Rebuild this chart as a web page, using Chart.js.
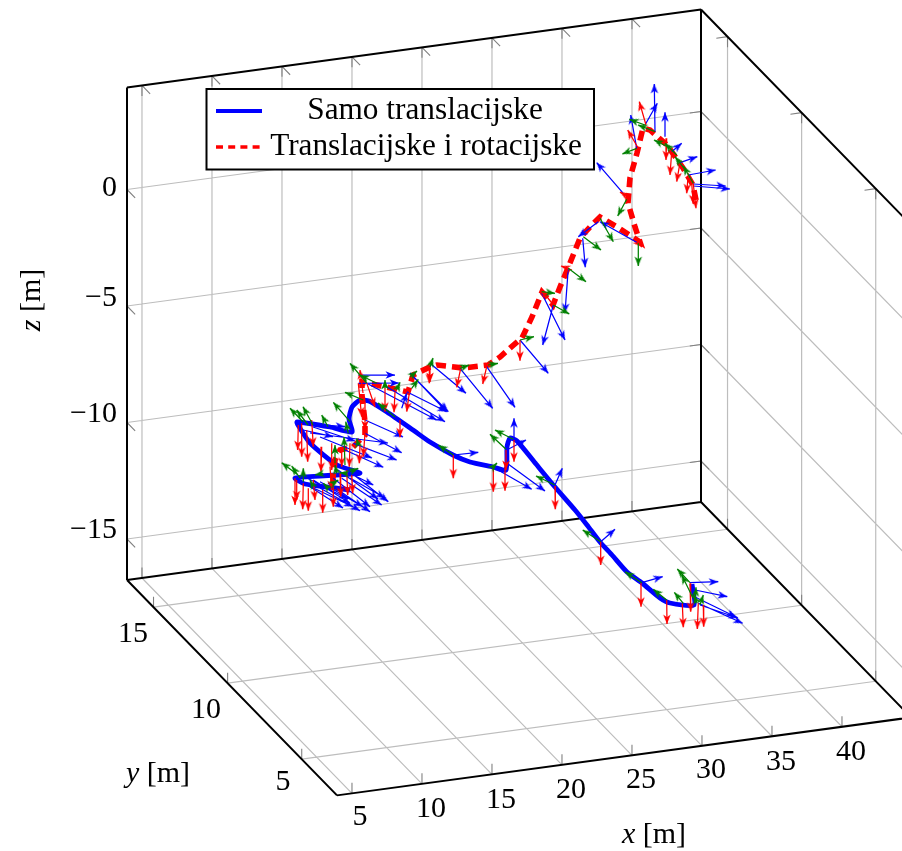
<!DOCTYPE html>
<html><head><meta charset="utf-8">
<style>html,body{margin:0;padding:0;background:#fff}canvas{display:block}</style>
<script src="https://cdn.jsdelivr.net/npm/chart.js@4"></script>
</head><body>
<canvas id="c" width="902" height="851"></canvas>
<script>
// axis ticks (metres)
const xTicks=[5,10,15,20,25,30,35,40];
const yTicks=[5,10,15];
const zTicks=[0,-5,-10,-15];
// axis limits of the 3D box
const xLim=[3.93,44.93], yLim=[2.62,16.79], zLim=[-16.76,4.38];
// series names
const seriesNames=['Samo translacijske','Translacijske i rotacijske'];
// trajectories, read in the projected view plane of the plot
const transPath=[[692,584],[694,605],[670,603],[660,598],[642,583],[627,572],[612,555],[600,542],[587,525],[575,510],[555,487],[536,464],[517,441],[510,438],[507,447],[506,470],[493,467],[470,462],[453,455],[430,442],[413,430],[387,412],[369,401],[360,400],[352,407],[349,419],[352,432],[330,427],[297,422],[298,425],[310,443],[337,465],[360,473],[352,474],[320,476],[295,478],[305,484],[335,488],[350,490]];
const rotPath=[[696,200],[693,185],[683,168],[667,145],[650,130],[643,128],[637,153],[630,178],[628,203],[635,227],[640,242],[617,227],[600,217],[590,227],[580,238],[568,268],[560,287],[553,305],[542,292],[532,317],[522,338],[510,348],[500,357],[488,365],[463,368],[437,365],[430,367],[413,375],[408,392],[377,385],[362,382],[362,395],[365,422],[365,435],[353,447],[340,450],[335,460],[333,478],[333,490]];
// orientation arrows in the same plane: [x0,y0,x1,y1]
const blueArrows=[
[600.7,541.7,615,529.3],[641.7,582.7,662.7,576.7],[690,582.7,718.3,581.7],[695,590,727.3,596.7],[695,597,736,617],[698,603,742.7,623.3],[700,605,738,618],
[453.3,455,478.3,452.3],[493.3,467.3,531.7,489.3],[505,461.7,545,491],[506.7,450,526,440],[514,438.3,514,418.3],[555,485,562.3,468.3],
[430,363.3,466,393.3],[460,368.3,492.7,408.3],[486.7,366.7,515,407.3],[520,340,548.3,373.3],
[541.7,293.3,565,340],[553.3,305,542.7,345],[568.3,268.3,565,312.7],
[638.3,243.3,600,221.7],[598.3,221.7,578.3,236.7],[582.7,238.3,585.3,267.3],[623.3,193.3,596.7,162.7],[636.7,148.3,630.7,115],[645,125,657.3,103.3],[655,131.7,654.3,84],[665,136.7,665,112.3],[671.7,151.7,681.7,143.3],[680,162.7,697.3,156.7],[688.3,175,715.7,170],[693.3,184,725.7,186],[693.3,186,730,189],
[358.3,375,395,375],[358.3,383.3,399,383],[366.7,383.3,436.7,420],[386.7,386.7,445,421.7],[406.7,391.7,446.7,411.7],[413.3,376.7,448.3,411.7],[410,373,446.7,411.7],[401.7,408.3,406.7,393.3],[365,420,403,437],[365,433.3,401.7,452.7],[353.3,443.3,396.7,460],[345,450,383.3,467.3],[300,423.3,345,426.7],[303,430,333,436.7],[310,433,388,443],[313,427,355,441],[320,437,372,458],
[351.7,473.3,388.3,501.7],[350,478,385,498],[341.7,478.3,381.7,505],[333.3,478.3,370,506.7],[328,483,370,511.7],[320,488,360,510.7],[303,483,353,506.7],[296.7,478.3,343,508],[320,481.7,363,506.7],[313.3,480,350,503.3],[350,473.3,373.3,485],[338,470,378,499],[305,477,348,499]
];
const greenArrows=[
[600.7,541.7,582.7,530],[641.7,582.7,625,571.7],[666.7,600,653.3,589.3],[683.3,603.3,674.3,592.3],[690,582.7,677.3,569],[693,598,681.7,575],[695,603,696,587.3],[700,605,703.3,595],[697.3,603.3,693.3,595],
[453.3,455,438.3,445],[493,467,497,463],[506,449.3,490,434.3],[513.3,439.3,495,430],[555,485,536,476],
[430,367,433,358],[460,368.3,469.3,365],[488,365,498,363.3],[520,340,534,336.7],
[541.7,291.7,555,293.3],[553.3,305,569.3,314],[568.3,268.3,586,281.7],[583.3,236.7,601,250],
[638.3,243.3,638.3,266],[600,218.3,613.3,241.7],[626.7,199.3,617.7,216],[636.7,148.3,622.3,154],[645,125,629.3,119.3],[655,131.7,638,125],[670,148,654,140],[676.7,155,665,143.3],[686.7,171.7,675,156.7],[693.3,183.3,683.3,166],
[366.7,383,350,363.3],[376.7,383.3,360,375],[385,388.3,385,380],[396.7,390,400,382.3],[411.7,388.3,418.3,379.3],[410,377,417,371],
[363.3,400,345,392.3],[350,421.7,333.3,402.3],[348.3,433.3,345.7,421.7],[395,417,378,403],[303,421.7,290,408.3],[308,425,296.7,410],[313,425,303,406.7],[328,426.7,321.7,415],[345,465,344,437],[358.3,445,356.7,438.3],[335,463.3,335,445],
[298,475,281.7,462.7],[300,478,291.7,466],[303.3,481.7,303.3,468.3],[311.7,483.3,310,480],[323.3,473.3,315,475],[336.7,473.3,335,465],[328.3,488.3,323.3,483.3],[333.3,483.3,338.3,480],[350,471.7,358.3,468.3],[345,473.3,340,472.7]
];
const redArrows=[
[600.7,541.7,600.7,565],[641,582.7,641,606.7],[666.7,600,667,624],[682.3,603.3,683.3,627.3],[690,583.3,690.7,611.7],[698.3,603.3,697.3,629],[703.3,605,703.7,626.7],
[453.3,455,453.3,478.3],[493.3,467.3,493.3,491.7],[505,466.7,505,490.7],[506,450,506,470],[514,440,514,461.7],[555,486,555.3,509.3],
[430,363,430,382],[460.7,368.3,456.7,387.3],[486.7,366.7,482.7,384],[520,340,520,360.7],
[553.3,305,541,289],[572,270,561,266],[638.3,148.3,627.7,130],[646,125,639.3,101.7],[625,195,620,192],[666.7,138.3,666,160],[671.7,151.7,670,175],[680,162.7,676.7,181.7],[688.3,173.3,686.7,193.3],[691.7,183.3,693.3,204],[693.3,184,696,208.3],[638,243,642,247],
[358.3,383.3,361.7,416.7],[366.7,383,375,407],[385,388,385,411.7],[395,391.7,394,412.3],[410,388,406.7,411.7],[400,420,400,437.3],[429.3,366.7,429.3,383.3],[365,403.3,365,430],[363,393,360,370],[365,433,363.3,456.7],[350,443.3,349.3,466.7],[341.7,450,341.7,466.7],[331.7,443.3,331.7,470],[321.7,446.7,321,471.7],[311.7,420,313.3,446.7],[306.7,430,307.7,461.7],[301.7,423.3,301.7,456.7],[298.3,425,297.7,450],[360,445,359.3,463.3],
[295,478.3,295,505],[296.7,480,296.7,500],[303.3,483.3,302.7,509.3],[308.3,488.3,308.3,510.7],[322.7,490,322.7,512.7],[313.3,480,315,500],[333.3,480,333.3,506.7],[340,473.3,340.7,496.7],[346.7,470,347.7,495],[351.7,475,352.7,493.3],[330,466.7,331.7,490]
];

function proj(x,y,z){
  return {x:127+(x-xLim[0])*14+(yLim[1]-y)*14.82,
          y:580-(x-xLim[0])*1.902+(yLim[1]-y)*15.2-(z-zLim[0])*23.3};
}
const gap={x:NaN,y:NaN};
function seg(list,a,b){list.push(a,b,gap);}
const [x0,x1]=xLim,[y0,y1]=yLim,[z0,z1]=zLim;

const box=[];
seg(box,proj(x0,y1,z0),proj(x0,y1,z1));
seg(box,proj(x0,y1,z1),proj(x1,y1,z1));
seg(box,proj(x1,y1,z1),proj(x1,y1,z0));
seg(box,proj(x0,y1,z0),proj(x1,y1,z0));
seg(box,proj(x0,y1,z0),proj(x0,y0,z0));
seg(box,proj(x0,y0,z0),proj(x1,y0,z0));
seg(box,proj(x1,y1,z0),proj(x1,y0,z0));
seg(box,proj(x1,y1,z1),proj(x1,y0,z1));

const grid=[],ticks=[];
const up=0.45,dy=0.55,dx=0.8;
xTicks.forEach(v=>{
  seg(grid,proj(v,y1,z0),proj(v,y1,z1));
  seg(grid,proj(v,y0,z0),proj(v,y1,z0));
  seg(ticks,proj(v,y0,z0),proj(v,y0,z0+up));
  seg(ticks,proj(v,y1,z0),proj(v,y1,z0+up));
  seg(ticks,proj(v,y1,z1),proj(v,y1,z1-up));
  seg(ticks,proj(v,y1,z1),proj(v,y1-dy,z1));
});
yTicks.forEach(v=>{
  seg(grid,proj(x1,v,z0),proj(x1,v,z1));
  seg(grid,proj(x0,v,z0),proj(x1,v,z0));
  seg(ticks,proj(x0,v,z0),proj(x0,v,z0+up));
  seg(ticks,proj(x1,v,z0),proj(x1,v,z0+up));
  seg(ticks,proj(x1,v,z1),proj(x1,v,z1-up));
  seg(ticks,proj(x1,v,z1),proj(x1-dx,v,z1));
});
zTicks.forEach(v=>{
  seg(grid,proj(x0,y1,v),proj(x1,y1,v));
  seg(grid,proj(x1,y1,v),proj(x1,y0,v));
  seg(ticks,proj(x0,y1,v),proj(x0,y1-dy,v));
  seg(ticks,proj(x1,y1,v),proj(x1-dx,y1,v));
  seg(ticks,proj(x1,y1,v),proj(x1,y1-dy,v));
});

function head(color){
  const c=document.createElement('canvas');c.width=24;c.height=12;
  const g=c.getContext('2d');g.fillStyle=color;g.beginPath();
  g.moveTo(12,6);g.lineTo(2.5,2.2);g.lineTo(5.2,6);g.lineTo(2.5,9.8);g.closePath();g.fill();
  return c;
}
function arrowData(list){
  const d=[];
  list.forEach(a=>seg(d,{x:a[0],y:a[1]},{x:a[2],y:a[3]}));
  return d;
}
function arrowSet(list,color,order){
  const img=head(color);
  const rot=list.map(a=>Math.atan2(a[3]-a[1],a[2]-a[0])*180/Math.PI);
  return {label:'arrows',data:arrowData(list),showLine:true,spanGaps:false,borderColor:color,borderWidth:1.25,order,
    pointStyle:c=>c.dataIndex%3===1?img:false,
    pointRadius:c=>c.dataIndex%3===1?6:0,
    pointRotation:c=>rot[Math.floor(c.dataIndex/3)]||0};
}
const lineSet=(label,data,color,w,order,extra)=>Object.assign({label,data,showLine:true,spanGaps:false,borderColor:color,borderWidth:w,pointRadius:0,order},extra||{});
const toPts=p=>p.map(q=>({x:q[0],y:q[1]}));

const SERIF='"Liberation Serif",serif';
const FS=30, LFS=31.3;
const tickText=(v)=>String(v).replace('-','\u2212');
// label anchors in the view plane
const xLabelPos=[[360,817],[431,809],[501,800],[571,790],[641,780],[711,770],[781,762],[851,752]];
const yLabelPos=[[283,782],[206,710],[133,634]];
const zLabelPos=[[117,188],[117,298],[117,414],[117,530]];

const textPlugin={id:'texts',afterDatasetsDraw(chart){
  const {ctx,scales:{x:sx,y:sy}}=chart;
  const P=(a,b)=>[sx.getPixelForValue(a),sy.getPixelForValue(b)];
  ctx.save();ctx.fillStyle='#000';ctx.textBaseline='middle';
  ctx.font=FS+'px '+SERIF;ctx.textAlign='center';
  xTicks.forEach((v,i)=>{const p=P(...xLabelPos[i]);ctx.fillText(tickText(v),p[0],p[1]);});
  yTicks.forEach((v,i)=>{const p=P(...yLabelPos[i]);ctx.fillText(tickText(v),p[0],p[1]);});
  ctx.textAlign='right';
  zTicks.forEach((v,i)=>{const p=P(...zLabelPos[i]);ctx.fillText(tickText(v),p[0],p[1]);});
  // axis titles
  const title=(name,cx,cy,rot)=>{
    ctx.save();ctx.translate(cx,cy);ctx.rotate(rot);ctx.textAlign='left';
    ctx.font='italic '+FS+'px '+SERIF;const w1=ctx.measureText(name).width;
    ctx.font=FS+'px '+SERIF;const rest=' [m]';const w2=ctx.measureText(rest).width;
    const s=-(w1+w2)/2;
    ctx.font='italic '+FS+'px '+SERIF;ctx.fillText(name,s,0);
    ctx.font=FS+'px '+SERIF;ctx.fillText(rest,s+w1,0);
    ctx.restore();
  };
  title('x',...P(654,835),0);
  title('y',...P(158,774),0);
  title('z',...P(32,300),-Math.PI/2);
  // legend
  const [lx,ly]=P(206.5,89),[rx,ry]=P(594,169.5);
  ctx.fillStyle='#fff';ctx.fillRect(lx,ly,rx-lx,ry-ly);
  ctx.strokeStyle='#000';ctx.lineWidth=2;ctx.strokeRect(lx,ly,rx-lx,ry-ly);
  ctx.lineWidth=4;ctx.strokeStyle='#00f';ctx.beginPath();ctx.moveTo(216,111);ctx.lineTo(262,111);ctx.stroke();
  ctx.lineWidth=3.5;ctx.strokeStyle='#f00';ctx.setLineDash([7,5.2]);ctx.beginPath();ctx.moveTo(216,147);ctx.lineTo(262,147);ctx.stroke();ctx.setLineDash([]);
  ctx.fillStyle='#000';ctx.font=LFS+'px '+SERIF;ctx.textAlign='center';
  ctx.fillText(seriesNames[0],425,111);
  ctx.fillText(seriesNames[1],426,147);
  ctx.restore();
}};

new Chart(document.getElementById('c'),{
  type:'scatter',
  data:{datasets:[
    arrowSet(greenArrows,'#008000',1),
    arrowSet(redArrows,'#ff0000',2),
    arrowSet(blueArrows,'#0000ff',3),
    lineSet(seriesNames[1],toPts(rotPath),'#ff0000',5.6,4,{borderDash:[10,6]}),
    lineSet(seriesNames[0],toPts(transPath),'#0000ff',4.8,5,{tension:0.2}),
    lineSet('box',box,'#000',2,6),
    lineSet('ticks',ticks,'#808080',1.1,7),
    lineSet('grid',grid,'#bdbdbd',1.2,8)
  ]},
  options:{
    responsive:false,animation:false,events:[],
    layout:{padding:0},
    plugins:{legend:{display:false},tooltip:{enabled:false},title:{display:false}},
    scales:{
      x:{type:'linear',display:false,min:0,max:902},
      y:{type:'linear',display:false,min:0,max:851,reverse:true}
    }
  },
  plugins:[textPlugin]
});
</script>
</body></html>
